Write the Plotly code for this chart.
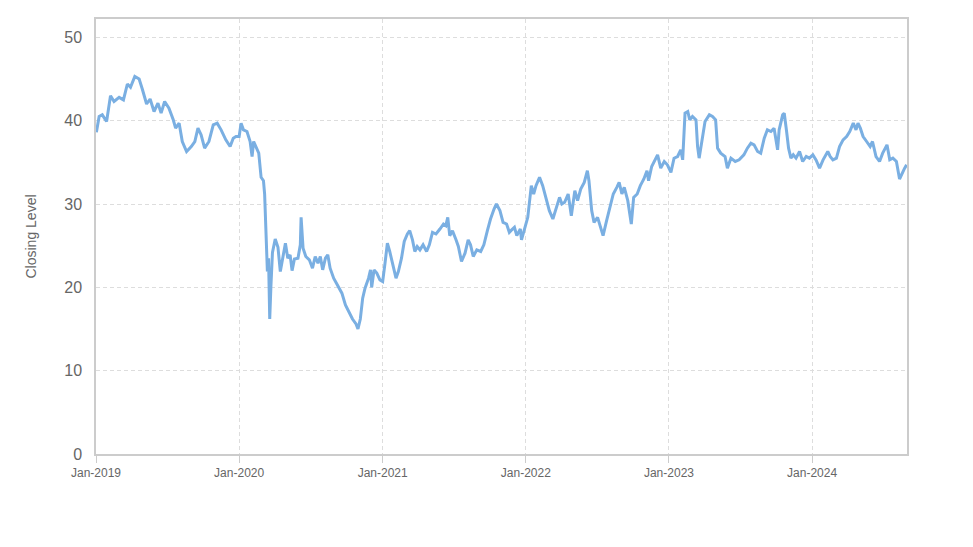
import plotly.graph_objects as go

dates = [
    "2019-01-02", "2019-01-09", "2019-01-17", "2019-01-28", "2019-02-07", "2019-02-16", "2019-03-01",
    "2019-03-12", "2019-03-22", "2019-03-30", "2019-04-10", "2019-04-21", "2019-04-29", "2019-05-10",
    "2019-05-19", "2019-05-29", "2019-06-08", "2019-06-16", "2019-06-25", "2019-07-06", "2019-07-17",
    "2019-07-23", "2019-08-01", "2019-08-09", "2019-08-20", "2019-09-01", "2019-09-10", "2019-09-18",
    "2019-09-26", "2019-10-05", "2019-10-16", "2019-10-27", "2019-11-06", "2019-11-16", "2019-11-28",
    "2019-12-09", "2019-12-17", "2019-12-24",
    "2020-01-01", "2020-01-06", "2020-01-12", "2020-01-21", "2020-01-29", "2020-02-03", "2020-02-07",
    "2020-02-13", "2020-02-20", "2020-02-26", "2020-03-03", "2020-03-06", "2020-03-09", "2020-03-13",
    "2020-03-16", "2020-03-19", "2020-03-22", "2020-03-26", "2020-04-02", "2020-04-09", "2020-04-15",
    "2020-04-21", "2020-04-28", "2020-05-04", "2020-05-10", "2020-05-15", "2020-05-21", "2020-05-30",
    "2020-06-05", "2020-06-07", "2020-06-12", "2020-06-19", "2020-06-28", "2020-07-06", "2020-07-13",
    "2020-07-20", "2020-07-26", "2020-08-01", "2020-08-08", "2020-08-14", "2020-08-20", "2020-08-29",
    "2020-09-09", "2020-09-19", "2020-09-28", "2020-10-08", "2020-10-16", "2020-10-25", "2020-10-30",
    "2020-11-05", "2020-11-11", "2020-11-17", "2020-11-26", "2020-12-01", "2020-12-04", "2020-12-10",
    "2020-12-17", "2020-12-25",
    "2021-01-01", "2021-01-07", "2021-01-13", "2021-01-19", "2021-01-26", "2021-02-04", "2021-02-10",
    "2021-02-18", "2021-02-25", "2021-03-05", "2021-03-11", "2021-03-18", "2021-03-24", "2021-03-30",
    "2021-04-06", "2021-04-14", "2021-04-23", "2021-04-30", "2021-05-08", "2021-05-17", "2021-05-27",
    "2021-06-05", "2021-06-11", "2021-06-16", "2021-06-21", "2021-06-28", "2021-07-07", "2021-07-13",
    "2021-07-21", "2021-07-30", "2021-08-07", "2021-08-13", "2021-08-20", "2021-08-29", "2021-09-08",
    "2021-09-16", "2021-09-25", "2021-10-03", "2021-10-12", "2021-10-18", "2021-10-27", "2021-11-04",
    "2021-11-13", "2021-11-20", "2021-11-24", "2021-12-03", "2021-12-09", "2021-12-18", "2021-12-21",
    "2021-12-28",
    "2022-01-06", "2022-01-15", "2022-01-21", "2022-01-27", "2022-02-05", "2022-02-13", "2022-02-22",
    "2022-03-02", "2022-03-11", "2022-03-20", "2022-03-28", "2022-04-03", "2022-04-10", "2022-04-19",
    "2022-04-27", "2022-05-06", "2022-05-13", "2022-05-21", "2022-05-30", "2022-06-07", "2022-06-11",
    "2022-06-18", "2022-06-24", "2022-07-03", "2022-07-11", "2022-07-17", "2022-07-26", "2022-08-04",
    "2022-08-12", "2022-08-21", "2022-08-27", "2022-09-03", "2022-09-09", "2022-09-18", "2022-09-27",
    "2022-10-03", "2022-10-12", "2022-10-20", "2022-10-29", "2022-11-06", "2022-11-10", "2022-11-18",
    "2022-11-27", "2022-12-03", "2022-12-11", "2022-12-20", "2022-12-28",
    "2023-01-06", "2023-01-14", "2023-01-23", "2023-01-31", "2023-02-05", "2023-02-11", "2023-02-18",
    "2023-02-23", "2023-03-02", "2023-03-11", "2023-03-15", "2023-03-19", "2023-03-26", "2023-04-03",
    "2023-04-14", "2023-04-22", "2023-04-30", "2023-05-05", "2023-05-13", "2023-05-24", "2023-05-30",
    "2023-06-08", "2023-06-19", "2023-06-29", "2023-07-11", "2023-07-20", "2023-07-29", "2023-08-06",
    "2023-08-15", "2023-08-23", "2023-09-01", "2023-09-09", "2023-09-18", "2023-09-26", "2023-10-05",
    "2023-10-09", "2023-10-18", "2023-10-22", "2023-10-28", "2023-11-02", "2023-11-08", "2023-11-14",
    "2023-11-21", "2023-11-30", "2023-12-08", "2023-12-17", "2023-12-25",
    "2024-01-03", "2024-01-11", "2024-01-20", "2024-01-29", "2024-02-04", "2024-02-10", "2024-02-16",
    "2024-02-23", "2024-03-03", "2024-03-11", "2024-03-20", "2024-03-29", "2024-04-06", "2024-04-15",
    "2024-04-22", "2024-04-27", "2024-05-03", "2024-05-10", "2024-05-19", "2024-05-28", "2024-06-03",
    "2024-06-12", "2024-06-21", "2024-06-29", "2024-07-10", "2024-07-17", "2024-07-25", "2024-08-03",
    "2024-08-11", "2024-08-18", "2024-08-24", "2024-08-29",
]

closing = [
    38.6, 40.5, 40.7, 39.9, 43.0, 42.3, 42.8,
    42.5, 44.4, 44.0, 45.3, 45.0, 43.8, 42.0,
    42.6, 41.1, 42.1, 40.9, 42.3, 41.5, 40.1,
    39.1, 39.7, 37.5, 36.3, 36.9, 37.5, 39.1,
    38.3, 36.7, 37.5, 39.5, 39.7, 38.9, 37.7,
    36.9, 37.9, 38.1,
    38.1, 39.7, 38.9, 38.7, 37.5, 35.7, 37.5,
    36.9, 36.1, 33.2, 32.8, 31.2, 26.4, 21.9,
    23.5, 16.2, 20.1, 24.2, 25.8, 24.8, 21.9,
    23.5, 25.3, 23.5, 23.9, 22.0, 23.4, 23.5,
    25.1, 28.4, 24.7, 23.7, 23.3, 22.3, 23.7,
    22.9, 23.7, 22.1, 23.5, 23.9, 22.3, 21.1,
    20.1, 19.3, 17.9, 17.0, 16.2, 15.6, 15.0,
    16.2, 18.7, 19.9, 21.1, 22.1, 20.0, 22.1,
    21.7, 20.9,
    20.7, 22.9, 25.3, 24.3, 22.9, 21.1, 21.9,
    23.5, 25.5, 26.4, 26.8, 25.7, 24.3, 24.9,
    24.5, 25.1, 24.3, 25.1, 26.6, 26.4, 27.0,
    27.6, 27.4, 28.4, 26.2, 26.8, 25.7, 24.9,
    23.1, 24.1, 25.7, 25.1, 23.7, 24.5, 24.3,
    25.1, 26.8, 28.2, 29.4, 30.0, 29.2, 27.8,
    27.6, 26.6, 26.8, 27.2, 26.2, 27.0, 25.7,
    26.8,
    28.4, 32.2, 31.2, 32.2, 33.2, 32.2, 30.6,
    29.2, 28.2, 29.6, 30.8, 30.0, 30.2, 31.2,
    28.6, 31.6, 30.4, 31.8, 32.6, 34.0, 32.8,
    29.2, 27.8, 28.4, 27.2, 26.2, 28.0, 29.6,
    31.2, 32.0, 32.6, 31.2, 32.0, 30.4, 27.6,
    30.8, 31.2, 32.2, 33.0, 34.0, 32.8, 34.5,
    35.3, 35.9, 34.3, 35.1, 34.7,
    33.8, 35.5, 35.7, 36.5, 35.3, 40.9, 41.1,
    40.1, 40.5, 40.1, 36.9, 35.5, 37.5, 39.9,
    40.7, 40.5, 40.1, 36.7, 36.1, 35.7, 34.3,
    35.5, 35.1, 35.3, 35.9, 36.7, 37.3, 37.1,
    36.3, 36.1, 37.9, 38.9, 38.7, 39.1, 36.5,
    38.9, 40.7, 40.9, 38.7, 36.7, 35.5, 35.9,
    35.5, 36.3, 35.1, 35.7, 35.5,
    35.9, 35.3, 34.3, 35.3, 35.9, 36.3, 35.7,
    35.3, 35.5, 36.9, 37.7, 38.1, 38.7, 39.7,
    38.9, 39.7, 39.1, 38.1, 37.5, 36.9, 37.5,
    35.7, 35.1, 36.1, 37.1, 35.3, 35.5, 35.1,
    33.0, 33.8, 34.3, 34.7,
]

y_ticks = [0, 10, 20, 30, 40, 50]
x_range = ["2019-01-01", "2024-08-30"]
y_range = [0, 52.2]

line_color = "#7aafe2"
grid_color = "#dddddd"
frame_color = "#cccccc"
text_color = "#666666"
font_family = "Liberation Sans, Arial, sans-serif"

fig = go.Figure()
fig.add_trace(go.Scatter(
    x=dates, y=closing, mode="lines",
    line=dict(color=line_color, width=3),
    showlegend=False,
))

fig.update_layout(
    width=973, height=547,
    margin=dict(l=96, r=66, t=19, b=93),
    paper_bgcolor="white", plot_bgcolor="white",
    font=dict(family=font_family, color=text_color),
)

fig.update_xaxes(
    type="date", range=x_range,
    tick0="2019-01-01", dtick="M12", tickformat="%b-%Y",
    tickfont=dict(size=12, color=text_color),
    showgrid=True, gridcolor=grid_color, griddash="4px,3px", gridwidth=1,
    showline=True, linecolor=frame_color, linewidth=1.5, mirror=True,
    ticks="outside", ticklen=7, tickcolor=frame_color, tickwidth=1,
    zeroline=False,
)

fig.update_yaxes(
    range=y_range, tickvals=y_ticks,
    tickfont=dict(size=16, color=text_color),
    title=dict(text="Closing Level", font=dict(size=14, color=text_color), standoff=24),
    showgrid=True, gridcolor=grid_color, griddash="4px,3px", gridwidth=1,
    showline=True, linecolor=frame_color, linewidth=1.5, mirror=True,
    ticks="outside", ticklen=9, tickcolor="rgba(0,0,0,0)",
    zeroline=False,
)

fig.write_html("out.html")
